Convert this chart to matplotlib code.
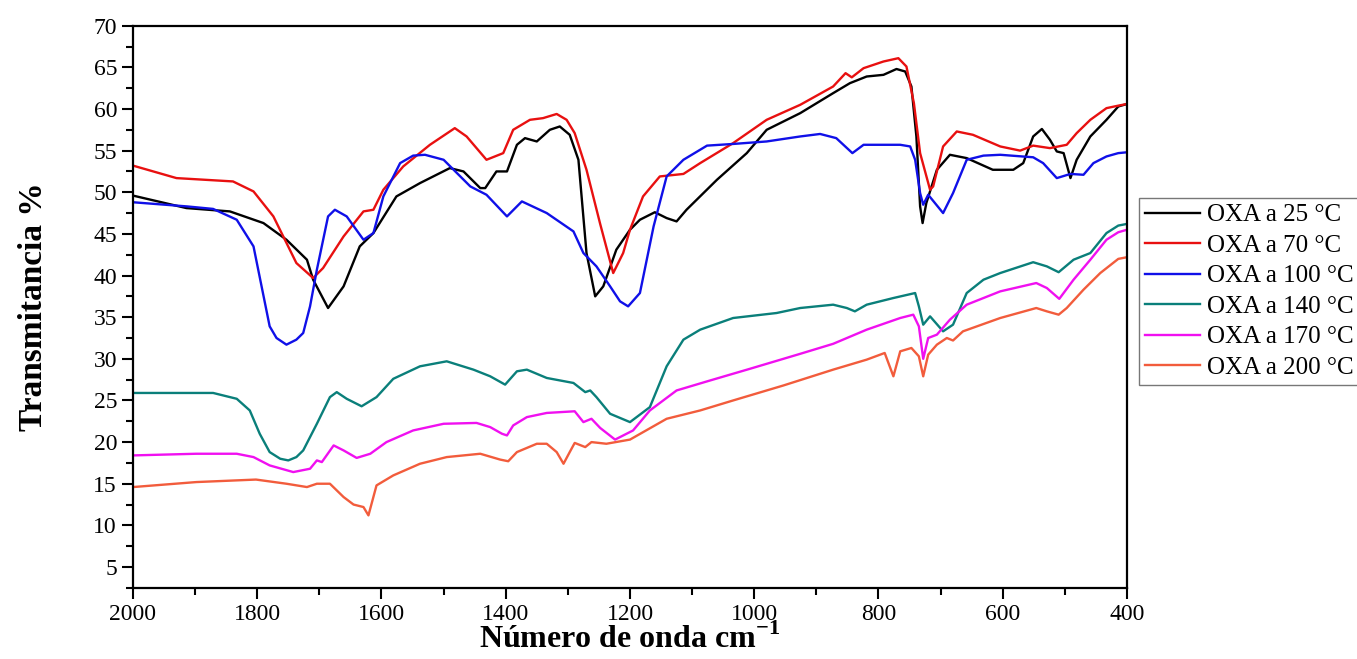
import numpy as np
import matplotlib
matplotlib.use('Agg')
import matplotlib.pyplot as plt
from matplotlib.ticker import MultipleLocator

plt.rcParams['font.family'] = ['Liberation Serif', 'DejaVu Serif']
plt.rcParams['mathtext.fontset'] = 'custom'
plt.rcParams['mathtext.rm'] = 'Liberation Serif'
plt.rcParams['mathtext.bf'] = 'Liberation Serif:bold'

# Espectros FTIR (numero de onda, transmitancia)
x_25 = [2000, 1914, 1844, 1790, 1753, 1720, 1710, 1686, 1661, 1635, 1613, 1576, 1538, 1490, 1468,
        1441, 1433, 1415, 1398, 1382, 1369, 1350, 1329, 1313, 1297, 1283, 1270, 1256, 1243, 1222,
        1200, 1184, 1160, 1141, 1125, 1109, 1060, 1012, 980, 926, 873, 846, 819, 792, 771, 757,
        747, 739, 733, 729, 723, 706, 685, 658, 616, 583, 567, 551, 537, 524, 513, 502, 491, 481,
        459, 433, 414, 400]
t_25 = [49.6, 48.1, 47.7, 46.3, 44.3, 41.9, 39.5, 36.1, 38.7, 43.5, 45.1, 49.5, 51.1, 52.9, 52.5,
        50.5, 50.5, 52.5, 52.5, 55.7, 56.5, 56.1, 57.5, 57.9, 56.9, 53.9, 42.7, 37.5, 38.7, 43.1,
        45.5, 46.7, 47.6, 46.9, 46.5, 47.9, 51.5, 54.7, 57.5, 59.5, 61.9, 63.1, 63.9, 64.1, 64.8, 64.5,
        62.7, 56.7, 48.3, 46.3, 48.7, 52.7, 54.5, 54.1, 52.7, 52.7, 53.5, 56.7, 57.6, 56.3, 54.9, 54.7,
        51.7, 53.9, 56.7, 58.7, 60.3, 60.6]

x_70 = [2000, 1930, 1839, 1806, 1774, 1737, 1710, 1694, 1661, 1629, 1613, 1597, 1565, 1522, 1482,
        1463, 1431, 1404, 1388, 1361, 1340, 1318, 1302, 1289, 1270, 1248, 1227, 1211, 1200, 1179,
        1152, 1114, 1087, 1034, 980, 926, 873, 853, 843, 824, 792, 768, 755, 743, 733, 717, 712,
        696, 674, 648, 604, 572, 551, 524, 497, 481, 459, 433, 414, 400]
t_70 = [53.2, 51.7, 51.3, 50.1, 47.1, 41.5, 39.7, 40.9, 44.7, 47.7, 47.9, 50.3, 53.1, 55.7, 57.7,
        56.7, 53.9, 54.7, 57.5, 58.7, 58.9, 59.4, 58.7, 57.1, 52.7, 46.2, 40.3, 42.7, 45.5, 49.5,
        51.9, 52.2, 53.5, 55.9, 58.7, 60.5, 62.7, 64.3, 63.8, 64.9, 65.7, 66.1, 65.1, 60.7, 54.7, 50.3, 50.7,
        55.5, 57.3, 56.9, 55.5, 55.0, 55.6, 55.3, 55.7, 57.1, 58.7, 60.1, 60.4, 60.6]

x_100 = [2000, 1913, 1871, 1833, 1806, 1793, 1780, 1769, 1753, 1737, 1726, 1715, 1704, 1686, 1675,
         1656, 1629, 1613, 1597, 1570, 1549, 1530, 1500, 1457, 1431, 1398, 1374, 1334, 1291, 1275,
         1254, 1232, 1216, 1203, 1184, 1162, 1141, 1114, 1076, 1034, 980, 926, 894, 868, 842, 824,
         765, 749, 741, 733, 728, 720, 696, 680, 658, 631, 604, 551, 535, 513, 491, 470, 454, 433,
         414, 400]
t_100 = [48.8, 48.3, 48.0, 46.7, 43.5, 38.7, 33.9, 32.5, 31.7, 32.3, 33.1, 36.3, 40.7, 47.1, 47.9,
         47.1, 44.3, 45.1, 49.5, 53.5, 54.4, 54.5, 53.9, 50.7, 49.7, 47.1, 48.9, 47.5, 45.3, 42.7,
         41.1, 38.7, 36.9, 36.3, 37.9, 45.9, 51.9, 53.9, 55.6, 55.8, 56.1, 56.7, 57.0, 56.5, 54.7, 55.7,
         55.7, 55.5, 53.9, 49.9, 48.5, 49.7, 47.5, 49.9, 53.9, 54.4, 54.5, 54.2, 53.5, 51.7, 52.2, 52.1,
         53.5, 54.3, 54.7, 54.8]

x_140 = [2000, 1871, 1833, 1812, 1796, 1780, 1763, 1750, 1737, 1726, 1704, 1683, 1672, 1656, 1632,
         1608, 1581, 1538, 1495, 1452, 1425, 1401, 1382, 1366, 1334, 1291, 1272, 1264, 1254, 1232,
         1200, 1168, 1141, 1114, 1087, 1034, 964, 926, 873, 851, 838, 819, 776, 741, 735, 728, 717,
         696, 680, 658, 631, 604, 551, 529, 510, 486, 459, 433, 414, 400]
t_140 = [25.9, 25.9, 25.2, 23.8, 21.0, 18.8, 18.0, 17.8, 18.2, 19.0, 22.2, 25.4, 26.0, 25.2, 24.3,
         25.4, 27.6, 29.1, 29.7, 28.7, 27.9, 26.9, 28.5, 28.7, 27.7, 27.1, 26.0, 26.2, 25.4, 23.4,
         22.4, 24.2, 29.1, 32.3, 33.5, 34.9, 35.5, 36.1, 36.5, 36.1, 35.7, 36.5, 37.3, 37.9, 36.3, 34.1, 35.1,
         33.3, 34.1, 37.9, 39.5, 40.3, 41.6, 41.1, 40.4, 41.9, 42.7, 45.1, 46.0, 46.2]

x_170 = [2000, 1898, 1833, 1806, 1780, 1742, 1715, 1704, 1696, 1677, 1661, 1640, 1618, 1592, 1549,
         1500, 1447, 1425, 1406, 1398, 1388, 1366, 1334, 1289, 1275, 1262, 1248, 1224, 1195, 1168,
         1125, 1071, 1007, 926, 873, 819, 765, 744, 735, 728, 720, 706, 685, 658, 604, 546, 529,
         509, 486, 459, 433, 414, 400]
t_170 = [18.4, 18.6, 18.6, 18.2, 17.2, 16.4, 16.8, 17.8, 17.6, 19.6, 19.0, 18.1, 18.6, 20.0, 21.4,
         22.2, 22.3, 21.8, 21.0, 20.8, 22.0, 23.0, 23.5, 23.7, 22.4, 22.8, 21.7, 20.3, 21.4, 23.8,
         26.2, 27.4, 28.8, 30.6, 31.8, 33.5, 34.9, 35.3, 33.9, 30.0, 32.5, 32.9, 34.7, 36.5, 38.1, 39.1, 38.5,
         37.2, 39.5, 41.9, 44.3, 45.2, 45.5]

x_200 = [2000, 1898, 1802, 1753, 1720, 1704, 1683, 1661, 1645, 1629, 1621, 1608, 1581, 1538, 1495,
         1441, 1409, 1396, 1382, 1350, 1334, 1318, 1307, 1297, 1289, 1272, 1262, 1238, 1200, 1141,
         1087, 1034, 953, 873, 819, 790, 776, 765, 747, 735, 728, 720, 706, 690, 680, 664, 604,
         546, 529, 510, 497, 470, 443, 414, 400]
t_200 = [14.6, 15.2, 15.5, 15.0, 14.6, 15.0, 15.0, 13.4, 12.5, 12.2, 11.2, 14.8, 16.0, 17.4, 18.2,
         18.6, 17.9, 17.7, 18.8, 19.8, 19.8, 18.8, 17.4, 18.8, 19.9, 19.4, 20.0, 19.8, 20.3, 22.8,
         23.8, 25.0, 26.8, 28.7, 29.9, 30.7, 27.9, 30.9, 31.3, 30.3, 27.9, 30.5, 31.7, 32.5, 32.2, 33.3, 34.9,
         36.1, 35.7, 35.3, 36.1, 38.3, 40.3, 42.0, 42.2]

etiquetas = ['OXA a 25 °C', 'OXA a 70 °C', 'OXA a 100 °C', 'OXA a 140 °C', 'OXA a 170 °C', 'OXA a 200 °C']
colores = ['#000000', '#e81010', '#1010e8', '#0a7f7a', '#f010f0', '#f25c3c']

fig = plt.figure(figsize=(13.57, 6.59), dpi=100)
ax = fig.add_axes([0.098, 0.108, 0.7325, 0.853])

series = [(x_25, t_25), (x_70, t_70), (x_100, t_100), (x_140, t_140), (x_170, t_170), (x_200, t_200)]
for (x, t), lab, col in zip(series, etiquetas, colores):
    ax.plot(x, t, color=col, lw=1.7, label=lab)

ax.set_xlim(2000, 400)
ax.set_ylim(2.5, 70)
ax.xaxis.set_major_locator(MultipleLocator(200))
ax.xaxis.set_minor_locator(MultipleLocator(100))
ax.yaxis.set_minor_locator(MultipleLocator(2.5))
ax.set_yticks(np.arange(5, 71, 5))
ax.tick_params(which='both', direction='out', width=1.5, labelsize=17, top=False, right=False)
ax.tick_params(which='major', length=8)
ax.tick_params(which='minor', length=5)
for s in ax.spines.values():
    s.set_linewidth(1.6)

ax.set_xlabel('Número de onda cm$^{\\mathbf{-1}}$', fontsize=23, fontweight='bold', labelpad=-1)
ax.set_ylabel('Transmitancia %', fontsize=24, fontweight='bold', labelpad=32)

leg = ax.legend(loc='upper left', bbox_to_anchor=(0.839, 0.70), bbox_transform=fig.transFigure,
                fontsize=18, frameon=True, fancybox=False, handlelength=2.2, handletextpad=0.3,
                labelspacing=0.32, borderpad=0.25, borderaxespad=0)
leg.get_frame().set_edgecolor('#555555')
leg.get_frame().set_linewidth(1.0)

fig.savefig('out.png', dpi=100)
